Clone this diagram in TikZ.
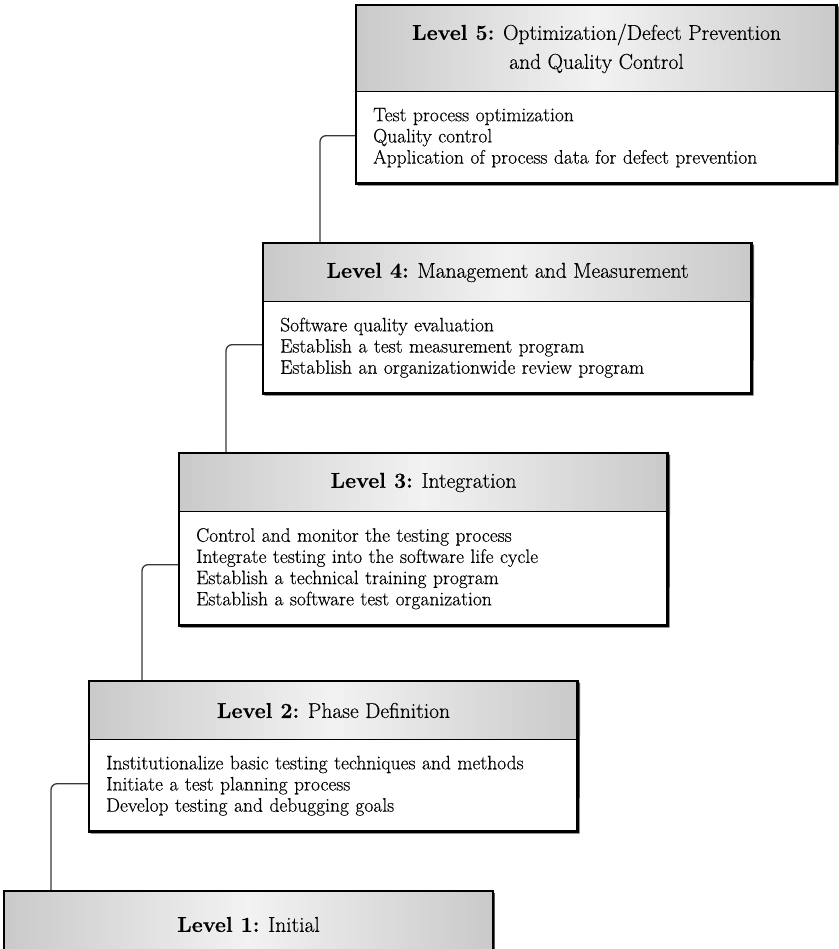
\documentclass[tikz,border=0pt]{standalone}
\usepackage{fontspec}
\setmainfont{Latin Modern Roman}[FakeBold=0.35]
\usetikzlibrary{calc}
\definecolor{hdredge}{gray}{0.79}
\definecolor{hdrmid}{gray}{0.95}
\definecolor{conncol}{gray}{0.22}
\tikzset{
  hdr/.style={anchor=north west, minimum width=488pt, minimum height=58pt, inner sep=0pt,
    left color=hdredge, right color=hdredge, middle color=hdrmid,
    draw=black, line width=1pt, align=center, font=\fontsize{21.5}{29}\selectfont},
  body/.style={anchor=north west, text width=454pt, inner xsep=17pt, inner ysep=0pt,
    minimum height=91pt, align=left, fill=white, font=\fontsize{19.5}{21.2}\selectfont},
  outer/.style={draw=black, line width=2.4pt},
  shadowline/.style={draw=black!65, line width=1.2pt},
  conn/.style={draw=conncol, line width=1.3pt, rounded corners=6pt},
}
\begin{document}
\begin{tikzpicture}[x=1pt,y=-1pt]
\useasboundingbox (0,0) rectangle (838,949);
% Level 5
\node[hdr, minimum width=480pt, minimum height=86pt] (h5) at (356,5) {\textbf{Level 5:} Optimization/Defect Prevention\\and Quality Control};
\node[body, text width=446pt] (b5) at (h5.south west) {Test process optimization\\Quality control\\Application of process data for defect prevention};
% Level 4
\node[hdr] (h4) at (263,243) {\textbf{Level 4:} Management and Measurement};
\node[body] (b4) at (h4.south west) {Software quality evaluation\\Establish a test measurement program\\Establish an organizationwide review program};
% Level 3
\node[hdr] (h3) at (179,453) {\textbf{Level 3:} Integration};
\node[body, minimum height=113pt] (b3) at (h3.south west) {Control and monitor the testing process\\Integrate testing into the software life cycle\\Establish a technical training program\\Establish a software test organization};
% Level 2
\node[hdr] (h2) at (89,681) {\textbf{Level 2:} Phase Definition};
\node[body] (b2) at (h2.south west) {Institutionalize basic testing techniques and methods\\Initiate a test planning process\\Develop testing and debugging goals};
% Level 1
\node[hdr, minimum height=66pt] (h1) at (4,891) {\textbf{Level 1:} Initial};
% connectors
\draw[conn] ([yshift=2pt]b5.west) -| ([xshift=57pt]h4.north west);
\draw[conn] ([yshift=3pt]b4.west) -| ([xshift=47pt]h3.north west);
\draw[conn] ([yshift=4pt]b3.west) -| ([xshift=53pt]h2.north west);
\draw[conn] ([yshift=2pt]b2.west) -| ([xshift=47pt]h1.north west);
% outer frames
\foreach \t/\b in {h5/b5,h4/b4,h3/b3,h2/b2,h1/h1}{
  \draw[shadowline] ([xshift=1.6pt,yshift=-1.6pt]\t.north east) -- ([xshift=1.6pt,yshift=-1.6pt]\b.south east) -- ([xshift=1.6pt,yshift=-1.6pt]\b.south west);
  \draw[outer] (\t.north west) rectangle (\b.south east);
}
\end{tikzpicture}
\end{document}
